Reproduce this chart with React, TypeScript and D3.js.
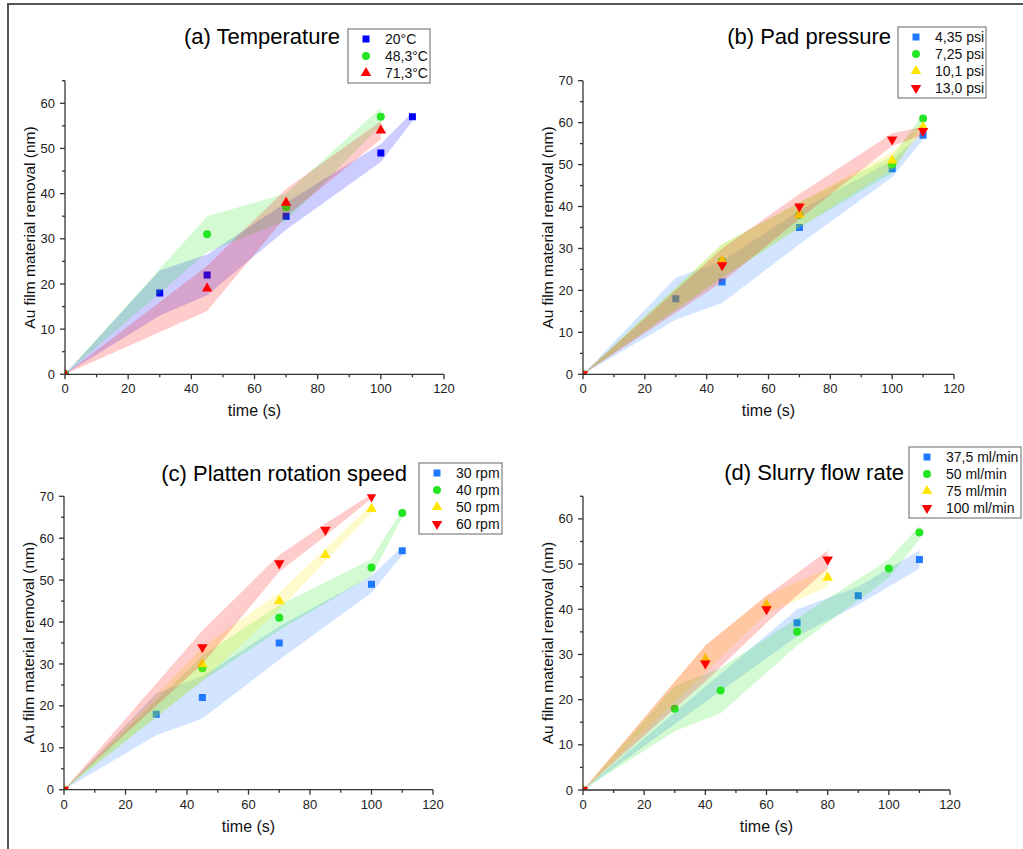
import React from 'react';
import * as d3 from 'd3';

const FONT = "Arial, 'Liberation Sans', sans-serif";

// shared ticks
const xTicks = [0, 20, 40, 60, 80, 100, 120];

// (a) temperature
const tempLabels = ['20°C', '48,3°C', '71,3°C'];
const tempTime = [
  [0, 30, 45, 70, 100, 110],
  [0, 45, 70, 100],
  [0, 45, 70, 100],
];
const tempRemoval = [
  [0, 18, 22, 35, 49, 57],
  [0, 31, 37, 57],
  [0, 19, 38, 54],
];
const tempErr = [
  [0, 5, 4.5, 3, 2, 1],
  [0, 4, 3, 2],
  [0, 5, 3, 2],
];

// (b) pad pressure
const pressLabels = ['4,35 psi', '7,25 psi', '10,1 psi', '13,0 psi'];
const pressTime = [
  [0, 30, 45, 70, 100, 110],
  [0, 45, 70, 100, 110],
  [0, 45, 70, 100, 110],
  [0, 45, 70, 100, 110],
];
const pressRemoval = [
  [0, 18, 22, 35, 49, 57],
  [0, 27, 38, 50, 61],
  [0, 27, 38, 51, 59],
  [0, 26, 40, 56, 58],
];
const pressErr = [
  [0, 5, 5, 4, 2, 1],
  [0, 4, 3, 2, 1],
  [0, 4, 3, 2, 1],
  [0, 4, 3, 1.5, 1],
];

// (c) platten rotation speed
const speedLabels = ['30 rpm', '40 rpm', '50 rpm', '60 rpm'];
const speedTime = [
  [0, 30, 45, 70, 100, 110],
  [0, 45, 70, 100, 110],
  [0, 45, 70, 85, 100],
  [0, 45, 70, 85, 100],
];
const speedRemoval = [
  [0, 18, 22, 35, 49, 57],
  [0, 29, 41, 53, 66],
  [0, 30, 45, 56, 67],
  [0, 34, 54, 62, 70],
];
const speedErr = [
  [0, 5, 5, 4, 2, 1],
  [0, 3, 3, 2, 1],
  [0, 4, 2, 1.5, 1],
  [0, 4, 2, 1.5, 0.5],
];

// (d) slurry flow rate
const flowLabels = ['37,5 ml/min', '50 ml/min', '75 ml/min', '100 ml/min'];
const flowTime = [
  [0, 70, 90, 110],
  [0, 30, 45, 70, 100, 110],
  [0, 40, 60, 80],
  [0, 40, 60, 80],
];
const flowRemoval = [
  [0, 37, 43, 51],
  [0, 18, 22, 35, 49, 57],
  [0, 29, 41, 47],
  [0, 28, 40, 51],
];
const flowErr = [
  [0, 3, 2, 2],
  [0, 5, 5, 3, 2, 1.5],
  [0, 3, 2, 2],
  [0, 4, 3, 2],
];

const BLUE_A = '#0000ff';
const BLUE = '#1f78ff';
const GREEN = '#22e622';
const YELLOW = '#ffe600';
const RED = '#ff0000';

type Shape = 'square' | 'circle' | 'up' | 'down';

const symbolPath = (shape: Shape) => {
  if (shape === 'square') return d3.symbol(d3.symbolSquare, 49)();
  if (shape === 'circle') return d3.symbol(d3.symbolCircle, 50)();
  return d3.symbol(d3.symbolTriangle, 48)();
};

const Marker = ({ shape, x, y, color }: { shape: Shape; x: number; y: number; color: string }) => (
  <path
    d={symbolPath(shape) || ''}
    transform={`translate(${x},${y})${shape === 'down' ? ' rotate(180)' : ''}`}
    fill={color}
  />
);

type PanelProps = {
  id: string;
  x0: number; x1: number; yTop: number; yBottom: number; yMax: number;
  title: string; titleX: number; titleY: number;
  legend: { x: number; y: number; w: number };
  labels: string[]; times: number[][]; values: number[][]; errs: number[][];
  colors: string[]; shapes: Shape[];
};

const Panel = (p: PanelProps) => {
  const x = d3.scaleLinear().domain([0, 120]).range([p.x0, p.x1]);
  const y = d3.scaleLinear().domain([0, p.yMax]).range([p.yBottom, p.yTop]);
  const majorY = d3.range(0, p.yMax + 0.1, 10);
  const minorY = d3.range(5, p.yMax + 0.1, 10);
  const minorX = d3.range(10, 120, 20);
  const axisColor = '#333';

  return (
    <g>
      <defs>
        <clipPath id={`clip-${p.id}`}>
          <rect x={p.x0} y={p.yTop - 2} width={p.x1 - p.x0} height={p.yBottom - p.yTop + 2} />
        </clipPath>
      </defs>

      {/* bands + markers, series by series */}
      <g clipPath={`url(#clip-${p.id})`}>
        {p.times.map((ts, i) => {
          const vals = p.values[i];
          const errs = p.errs[i];
          const band = d3.area<number>()
            .x((_, j) => x(ts[j]))
            .y0((_, j) => y(vals[j] - errs[j]))
            .y1((_, j) => y(vals[j] + errs[j]))(ts);
          return (
            <g key={i}>
              <path d={band || ''} fill={p.colors[i]} fillOpacity={0.2} />
              {ts.map((t, j) => (
                <Marker key={j} shape={p.shapes[i]} x={x(t)} y={y(vals[j])} color={p.colors[i]} />
              ))}
            </g>
          );
        })}
      </g>

      {/* axes */}
      <g stroke={axisColor} strokeWidth={1.3} fill="none">
        <line x1={p.x0} x2={p.x1} y1={p.yBottom} y2={p.yBottom} />
        <line x1={p.x0} x2={p.x0} y1={p.yBottom} y2={p.yTop} />
        {xTicks.map(t => (
          <line key={t} x1={x(t)} x2={x(t)} y1={p.yBottom} y2={p.yBottom + 5} />
        ))}
        {minorX.map(t => (
          <line key={t} x1={x(t)} x2={x(t)} y1={p.yBottom} y2={p.yBottom + 3} />
        ))}
        {majorY.map(t => (
          <line key={t} x1={p.x0 - 5} x2={p.x0} y1={y(t)} y2={y(t)} />
        ))}
        {minorY.map(t => (
          <line key={t} x1={p.x0 - 3} x2={p.x0} y1={y(t)} y2={y(t)} />
        ))}
      </g>
      <g fontFamily={FONT} fontSize={13} fill="#222">
        {xTicks.map(t => (
          <text key={t} x={x(t)} y={p.yBottom + 19} textAnchor="middle">{t}</text>
        ))}
        {majorY.map(t => (
          <text key={t} x={p.x0 - 10} y={y(t)} dy="0.35em" textAnchor="end">{t}</text>
        ))}
      </g>
      <text x={(p.x0 + p.x1) / 2} y={p.yBottom + 42} textAnchor="middle"
        fontFamily={FONT} fontSize={16} fill="#111">time (s)</text>
      <text transform={`translate(${p.x0 - 35},${(p.yTop + p.yBottom) / 2}) rotate(-90)`}
        dy="0.35em" textAnchor="middle" fontFamily={FONT} fontSize={15.5} fill="#111">
        Au film material removal (nm)
      </text>

      {/* title */}
      <text x={p.titleX} y={p.titleY} textAnchor="end" fontFamily={FONT} fontSize={22} fill="#000">
        {p.title}
      </text>

      {/* legend */}
      <rect x={p.legend.x} y={p.legend.y} width={p.legend.w}
        height={p.labels.length * 17 + 3} fill="#fff" stroke="#666" strokeWidth={1} />
      {p.labels.map((lab, i) => {
        const cy = p.legend.y + 10 + i * 17;
        return (
          <g key={lab}>
            <Marker shape={p.shapes[i]} x={p.legend.x + 18} y={cy} color={p.colors[i]} />
            <text x={p.legend.x + 37} y={cy} dy="0.35em" fontFamily={FONT} fontSize={14} fill="#111">
              {lab}
            </text>
          </g>
        );
      })}
    </g>
  );
};

export default function App() {
  return (
    <svg width={1023} height={849} style={{ position: 'absolute', left: 0, top: 0, background: '#fff' }}>
      <rect width={1023} height={849} fill="#fff" />
      <line x1={7} x2={1023} y1={4} y2={4} stroke="#555" strokeWidth={2} />
      <line x1={8} x2={8} y1={4} y2={849} stroke="#555" strokeWidth={2} />

      <Panel id="a" x0={65} x1={444} yTop={80.7} yBottom={374.3} yMax={65}
        title="(a) Temperature" titleX={340} titleY={44}
        legend={{ x: 348, y: 29, w: 82 }}
        labels={tempLabels} times={tempTime} values={tempRemoval} errs={tempErr}
        colors={[BLUE_A, GREEN, RED]} shapes={['square', 'circle', 'up']} />

      <Panel id="b" x0={583} x1={954} yTop={80.7} yBottom={374.3} yMax={70}
        title="(b) Pad pressure" titleX={891} titleY={44}
        legend={{ x: 898, y: 27, w: 88 }}
        labels={pressLabels} times={pressTime} values={pressRemoval} errs={pressErr}
        colors={[BLUE, GREEN, YELLOW, RED]} shapes={['square', 'circle', 'up', 'down']} />

      <Panel id="c" x0={64} x1={433} yTop={496.3} yBottom={789.7} yMax={70}
        title="(c) Platten rotation speed" titleX={407} titleY={481}
        legend={{ x: 419, y: 463, w: 83 }}
        labels={speedLabels} times={speedTime} values={speedRemoval} errs={speedErr}
        colors={[BLUE, GREEN, YELLOW, RED]} shapes={['square', 'circle', 'up', 'down']} />

      <Panel id="d" x0={583} x1={950} yTop={496.3} yBottom={790} yMax={65}
        title="(d) Slurry flow rate" titleX={904} titleY={480}
        legend={{ x: 909, y: 447, w: 112 }}
        labels={flowLabels} times={flowTime} values={flowRemoval} errs={flowErr}
        colors={[BLUE, GREEN, YELLOW, RED]} shapes={['square', 'circle', 'up', 'down']} />
    </svg>
  );
}
